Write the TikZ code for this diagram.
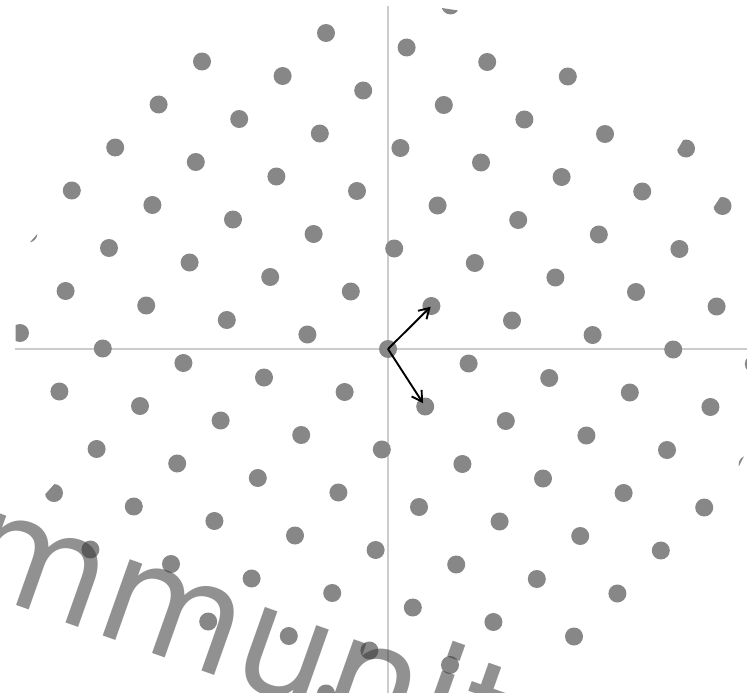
\documentclass[tikz,border=0pt]{standalone}
\usepackage{fontspec}
\setmainfont{DejaVu Sans}
\usetikzlibrary{arrows.meta}
\begin{document}
\begin{tikzpicture}[x=1pt,y=-1pt,
  dotc/.style={fill=black!47},
  axisline/.style={draw=black!20,line width=1.6pt},
  vec/.style={draw=black,line width=1.9pt,-{Straight Barb[length=10pt,width=12pt]}},
  wmark/.style={text=black!78,text opacity=0.55,font=\fontsize{148}{150}\selectfont,inner sep=0pt,rotate=-19.5,anchor=base west}]
\useasboundingbox (0,0) rectangle (747,693);
\fill[white] (0,0) rectangle (747,693);
\coordinate (O) at (388,349);
\coordinate (xl) at (15,349); \coordinate (xr) at (747,349);
\coordinate (yt) at (388,6); \coordinate (yb) at (388,693);
\draw[axisline] (xl) -- (xr);
\draw[axisline] (yt) -- (yb);
\foreach \i in {-7,...,7}{
 \foreach \j in {-6,...,6}{
  \pgfmathsetmacro\lx{43.4*\i+37.2*\j}
  \pgfmathsetmacro\ly{-43*\i+57.5*\j}
  \pgfmathsetmacro\ldd{(\lx/100)^2+(\ly/100)^2}
  \pgfmathtruncatemacro\keepit{(\ldd<12.9)*(1-(\i==6)*(\j==1))*(1-(\i==4)*(\j==-3))}
  \ifnum\keepit=1 \fill[dotc] (388+\lx,349+\ly) circle[radius=9pt]; \fi
 }}
% partial dots
\begin{scope}\clip[shift={(686,148.5)},rotate=-31] (-6.7,-30) rectangle (30,30);
 \fill[dotc] (686,148.5) circle[radius=9pt];\end{scope}
\begin{scope}\clip[shift={(722.5,206)},rotate=-33.7] (-6.7,-30) rectangle (30,30);
 \fill[dotc] (722.5,206) circle[radius=9pt];\end{scope}
\begin{scope}\clip[shift={(54,493)},rotate=-42] (-5.7,-30) rectangle (30,30);
 \fill[dotc] (54,493) circle[radius=9pt];\end{scope}
\begin{scope}\clip[shift={(20,333)}] (-4.5,-30) rectangle (30,30);
 \fill[dotc] (20,333) circle[radius=9pt];\end{scope}
\begin{scope}\clip[shift={(28.4,233.5)},rotate=-41.3] (7,-30) rectangle (30,30);
 \fill[dotc] (28.4,233.5) circle[radius=9pt];\end{scope}
\begin{scope}\clip[shift={(450.5,5.5)},rotate=-98.6] (3.8,-30) rectangle (30,30);
 \fill[dotc] (450.5,5.5) circle[radius=9pt];\end{scope}
\fill[dotc] (753.8,364) circle[radius=9pt];
\begin{scope}\clip[shift={(747.6,464.5)},rotate=153.2] (7,-30) rectangle (30,30);
 \fill[dotc] (747.6,464.5) circle[radius=9pt];\end{scope}
% basis vectors
\coordinate (A) at (431.4,306);
\coordinate (B) at (425.2,406.5);
\draw[vec,shorten >=1pt] (O) -- (A);
\draw[vec,shorten >=4pt] (O) -- (B);
% watermark
\node[wmark] (wm) at (-208,526) {community};
\end{tikzpicture}
\end{document}
